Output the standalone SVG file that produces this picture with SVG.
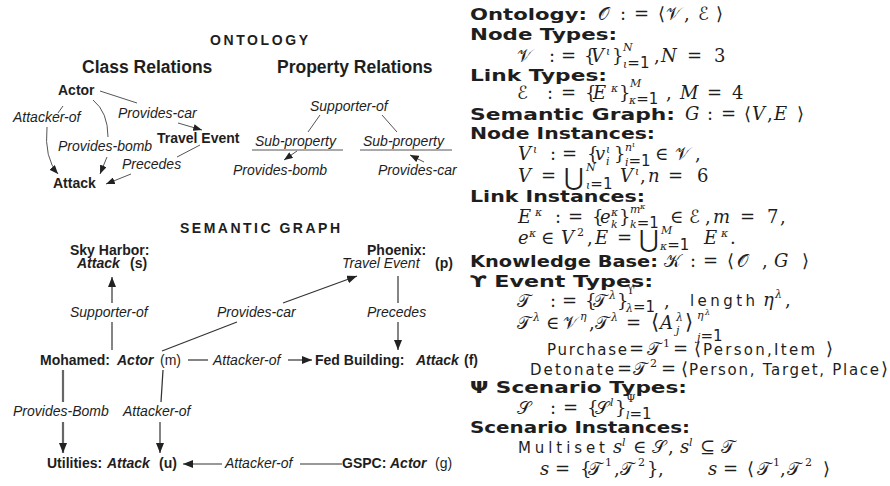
<svg xmlns="http://www.w3.org/2000/svg" width="890" height="486" viewBox="0 0 890 486">
<style>
text{fill:#1e1e1e}
.t{font-family:"Liberation Sans",Arial,sans-serif;font-size:14px}
.b{font-weight:bold}
.it{font-style:italic}
.ti{font-family:"Liberation Sans",Arial,sans-serif;font-size:17.5px;font-weight:bold}
.cap{font-family:"Liberation Sans",Arial,sans-serif;font-size:14px;font-weight:bold}
.h{font-family:"DejaVu Sans","Noto Sans",sans-serif;font-size:16.5px;font-weight:bold}
.m{font-family:"DejaVu Serif","Liberation Serif",serif;font-size:18px}
.i{font-style:italic}
.s{font-size:11px}
.xs{font-size:8px}
.u{font-family:"DejaVu Sans","Noto Sans",sans-serif;font-size:15px;font-style:normal}
.cal{font-family:"DejaVu Serif","DejaVu Sans","Noto Sans",serif;font-style:normal}
.big{font-size:24px}
.ln{fill:none;stroke:#333;stroke-width:1.2}
.lg{fill:none;stroke:#555;stroke-width:1}
</style>
<defs>
<marker id="ah" viewBox="0 0 10 8" refX="10" refY="4" markerWidth="10" markerHeight="8" markerUnits="userSpaceOnUse" orient="auto"><path d="M0,0 L10,4 L0,8 z" fill="#222"/></marker>
<marker id="as" viewBox="0 0 10 8" refX="10" refY="4" markerWidth="9" markerHeight="7" markerUnits="userSpaceOnUse" orient="auto"><path d="M0,0 L10,4 L0,8 z" fill="#222"/></marker>
</defs>

<!-- Titles -->
<text class="cap" x="210" y="45" textLength="98" lengthAdjust="spacing">ONTOLOGY</text>
<text class="ti" x="82" y="73">Class Relations</text>
<text class="ti" x="277" y="73">Property Relations</text>
<text class="cap" x="180" y="233" textLength="160" lengthAdjust="spacing">SEMANTIC GRAPH</text>

<!-- Ontology class nodes -->
<g id="o-actor"><text class="t b" x="58" y="95">Actor</text></g>
<g id="o-travel"><text class="t b" x="157" y="143">Travel Event</text></g>
<g id="o-attack"><text class="t b" x="53" y="188">Attack</text></g>

<!-- Property relation nodes -->
<g id="p-supporter"><text class="t it" x="310" y="111">Supporter-of</text></g>
<g id="p-sub1"><text class="t it" x="255" y="146">Sub-property</text><line class="lg" x1="252" y1="150" x2="343" y2="150"/></g>
<g id="p-sub2"><text class="t it" x="363" y="146">Sub-property</text><line class="lg" x1="360" y1="150" x2="452" y2="150"/></g>
<g id="p-bomb"><text class="t it" x="233" y="175">Provides-bomb</text></g>
<g id="p-car"><text class="t it" x="378" y="175">Provides-car</text></g>

<!-- Semantic graph nodes -->
<g id="s-skyharbor"><text class="t b" x="70" y="255">Sky Harbor:</text><text class="t" y="268"><tspan class="b it" x="77">Attack</tspan><tspan class="b" x="130">(s)</tspan></text></g>
<g id="s-phoenix"><text class="t b" x="367" y="255">Phoenix:</text><text class="t" y="268"><tspan class="it" x="342">Travel Event</tspan><tspan class="b" x="435">(p)</tspan></text></g>
<g id="s-mohamed"><text class="t" y="365"><tspan class="b" x="40">Mohamed:</tspan><tspan class="b it" x="117">Actor</tspan><tspan x="160">(m)</tspan></text></g>
<g id="s-fed"><text class="t" y="365"><tspan class="b" x="315">Fed Building:</tspan><tspan class="b it" x="416">Attack</tspan><tspan class="b" x="464">(f)</tspan></text></g>
<g id="s-utilities"><text class="t" y="468"><tspan class="b" x="47">Utilities:</tspan><tspan class="b it" x="107">Attack</tspan><tspan class="b" x="159">(u)</tspan></text></g>
<g id="s-gspc"><text class="t" y="468"><tspan class="b" x="342">GSPC:</tspan><tspan class="b it" x="390">Actor</tspan><tspan x="435">(g)</tspan></text></g>

<!-- Connectors -->
<g id="connectors">
  <!-- ontology class relations -->
  <line class="lg" x1="100" y1="91" x2="137" y2="103"/>
  <text class="t it" x="118" y="118">Provides-car</text>
  <line class="lg" x1="178" y1="123" x2="202" y2="130" marker-end="url(#as)"/>
  <line class="lg" x1="63" y1="106" x2="58" y2="113"/>
  <text class="t it" x="13" y="122">Attacker-of</text>
  <path class="lg" d="M47,127 Q44,158 58,174" marker-end="url(#as)"/>
  <path class="lg" d="M93,100 Q108,112 108,137"/>
  <text class="t it" x="58" y="151">Provides-bomb</text>
  <line class="lg" x1="107" y1="157" x2="100" y2="174" marker-end="url(#as)"/>
  <line class="lg" x1="200" y1="145" x2="177" y2="157"/>
  <text class="t it" x="122" y="169">Precedes</text>
  <line class="lg" x1="131" y1="174" x2="106" y2="184" marker-end="url(#as)"/>
  <!-- property relations -->
  <line class="lg" x1="320" y1="115" x2="308" y2="132"/>
  <line class="lg" x1="382" y1="115" x2="397" y2="132"/>
  <line class="lg" x1="297" y1="151" x2="284" y2="160" marker-end="url(#as)"/>
  <line class="lg" x1="424" y1="162" x2="410" y2="155" marker-end="url(#as)"/>
  <!-- semantic graph -->
  <line class="ln" x1="112" y1="303" x2="112" y2="277" marker-end="url(#ah)"/>
  <line class="ln" x1="112" y1="350" x2="112" y2="322"/>
  <text class="t it" x="70" y="317">Supporter-of</text>
  <line class="ln" x1="162" y1="351" x2="237" y2="322"/>
  <line class="ln" x1="283" y1="303" x2="357" y2="276" marker-end="url(#ah)"/>
  <text class="t it" x="217" y="317">Provides-car</text>
  <line class="ln" x1="398" y1="276" x2="398" y2="303"/>
  <line class="ln" x1="398" y1="322" x2="398" y2="350" marker-end="url(#ah)"/>
  <text class="t it" x="367" y="317">Precedes</text>
  <line class="ln" x1="188" y1="360" x2="208" y2="360"/>
  <text class="t it" x="213" y="365">Attacker-of</text>
  <line class="ln" x1="288" y1="360" x2="312" y2="360" marker-end="url(#ah)"/>
  <line x1="63" y1="370" x2="63" y2="402" stroke="#666" stroke-width="2.2"/>
  <line x1="63" y1="422" x2="63" y2="453" stroke="#666" stroke-width="2.2" marker-end="url(#ah)"/>
  <text class="t it" x="13" y="416">Provides-Bomb</text>
  <line class="ln" x1="163" y1="370" x2="161" y2="402"/>
  <line class="ln" x1="160" y1="422" x2="160" y2="453" marker-end="url(#ah)"/>
  <text class="t it" x="123" y="416">Attacker-of</text>
  <line class="ln" x1="222" y1="464" x2="183" y2="464" marker-end="url(#ah)"/>
  <text class="t it" x="225" y="468">Attacker-of</text>
  <line class="ln" x1="300" y1="464" x2="342" y2="464"/>
</g>

<!-- Right panel: definitions -->
<g id="definitions">
<text class="h" x="470" y="20" textLength="117" lengthAdjust="spacingAndGlyphs">Ontology:</text>
<text class="m" y="20"><tspan class="cal" x="598">𝒪</tspan><tspan x="620">:</tspan><tspan x="634">=</tspan><tspan x="658">⟨</tspan><tspan class="cal" x="666">𝒱</tspan><tspan x="684">,</tspan><tspan class="cal" x="698">ℰ</tspan><tspan x="716">⟩</tspan></text>

<text class="h" x="470" y="40" textLength="147" lengthAdjust="spacingAndGlyphs">Node Types:</text>
<text class="m" y="62"><tspan class="cal" x="517">𝒱</tspan><tspan x="549">:</tspan><tspan x="561">=</tspan><tspan x="584">{</tspan><tspan class="i" x="591">V</tspan><tspan class="i s" x="606" y="55">ι</tspan><tspan x="612" y="62">}</tspan><tspan class="i s" x="623" y="51">N</tspan><tspan class="i s" x="623" y="68">ι<tspan class="u s">=1</tspan></tspan><tspan x="654" y="62">,</tspan><tspan class="i" x="661">N</tspan><tspan x="687">=</tspan><tspan x="714">3</tspan></text>

<text class="h" x="470" y="81" textLength="137" lengthAdjust="spacingAndGlyphs">Link Types:</text>
<text class="m" y="99"><tspan class="cal" x="517">ℰ</tspan><tspan x="547">:</tspan><tspan x="561">=</tspan><tspan x="585">{</tspan><tspan class="i" x="593">E</tspan><tspan class="i s" x="611" y="92">κ</tspan><tspan x="619" y="99">}</tspan><tspan class="i s" x="630" y="87">M</tspan><tspan class="i s" x="629" y="104">κ<tspan class="u s">=1</tspan></tspan><tspan x="666" y="99">,</tspan><tspan class="i" x="680">M</tspan><tspan x="707">=</tspan><tspan x="732">4</tspan></text>

<text class="h" x="470" y="120" textLength="205" lengthAdjust="spacingAndGlyphs">Semantic Graph:</text>
<text class="m" y="120"><tspan class="i" x="685">G</tspan><tspan x="707">:</tspan><tspan x="721">=</tspan><tspan x="744">⟨</tspan><tspan class="i" x="752">V</tspan><tspan x="767">,</tspan><tspan class="i" x="774">E</tspan><tspan x="797">⟩</tspan></text>

<text class="h" x="470" y="139" textLength="185" lengthAdjust="spacingAndGlyphs">Node Instances:</text>
<text class="m" y="160"><tspan class="i" x="518">V</tspan><tspan class="i s" x="533" y="153">ι</tspan><tspan x="550" y="160">:</tspan><tspan x="562">=</tspan><tspan x="587">{</tspan><tspan class="i" x="595">v</tspan><tspan class="i s" x="606" y="153">ι</tspan><tspan class="i s" x="606" y="165">i</tspan><tspan x="614" y="160">}</tspan><tspan class="i s" x="625" y="151">n</tspan><tspan class="i xs" x="632" y="147">ι</tspan><tspan class="i s" x="625" y="166">i<tspan class="u s">=1</tspan></tspan><tspan x="655" y="160">∈</tspan><tspan class="cal" x="675">𝒱</tspan><tspan x="695">,</tspan></text>
<text class="m" y="182"><tspan class="i" x="518">V</tspan><tspan x="541">=</tspan><tspan class="big" x="564" y="185">⋃</tspan><tspan class="i s" x="586" y="171">N</tspan><tspan class="i s" x="586" y="189">ι<tspan class="u s">=1</tspan></tspan><tspan class="i" x="620" y="182">V</tspan><tspan class="i s" x="635" y="175">ι</tspan><tspan x="640" y="182">,</tspan><tspan class="i" x="648">n</tspan><tspan x="668">=</tspan><tspan x="697">6</tspan></text>

<text class="h" x="470" y="202" textLength="175" lengthAdjust="spacingAndGlyphs">Link Instances:</text>
<text class="m" y="223"><tspan class="i" x="518">E</tspan><tspan class="i s" x="535" y="216">κ</tspan><tspan x="555" y="223">:</tspan><tspan x="568">=</tspan><tspan x="592">{</tspan><tspan class="i" x="600">e</tspan><tspan class="i s" x="611" y="216">κ</tspan><tspan class="i s" x="611" y="228">k</tspan><tspan x="619" y="223">}</tspan><tspan class="i s" x="630" y="213">m</tspan><tspan class="i xs" x="640" y="209">κ</tspan><tspan class="i s" x="630" y="228">k<tspan class="u s">=1</tspan></tspan><tspan x="670" y="223">∈</tspan><tspan class="cal" x="689">ℰ</tspan><tspan x="705">,</tspan><tspan class="i" x="713">m</tspan><tspan x="740">=</tspan><tspan x="767">7</tspan><tspan x="780">,</tspan></text>
<text class="m" y="244"><tspan class="i" x="518">e</tspan><tspan class="i s" x="529" y="237">κ</tspan><tspan x="541" y="244">∈</tspan><tspan class="i" x="561">V</tspan><tspan class="s" x="577" y="236">2</tspan><tspan x="587" y="244">,</tspan><tspan class="i" x="595">E</tspan><tspan x="617">=</tspan><tspan class="big" x="639" y="247">⋃</tspan><tspan class="i s" x="661" y="234">M</tspan><tspan class="i s" x="660" y="250">κ<tspan class="u s">=1</tspan></tspan><tspan class="i" x="704" y="244">E</tspan><tspan class="i s" x="721" y="237">κ</tspan><tspan x="730" y="244">.</tspan></text>

<text class="h" x="470" y="267" textLength="188" lengthAdjust="spacingAndGlyphs">Knowledge Base:</text>
<text class="m" y="267"><tspan class="cal" x="664">𝒦</tspan><tspan x="690">:</tspan><tspan x="703">=</tspan><tspan x="727">⟨</tspan><tspan class="cal" x="737">𝒪</tspan><tspan x="762">,</tspan><tspan class="i" x="774">G</tspan><tspan x="802">⟩</tspan></text>

<text class="h" x="470" y="287" textLength="183" lengthAdjust="spacingAndGlyphs">ϒ Event Types:</text>
<text class="m" y="307"><tspan class="cal" x="517">𝒯</tspan><tspan x="550">:</tspan><tspan x="562">=</tspan><tspan x="585">{</tspan><tspan class="cal" x="593">𝒯</tspan><tspan class="i s" x="609" y="299">λ</tspan><tspan x="617" y="307">}</tspan><tspan class="s" x="627" y="294">ϒ</tspan><tspan class="i s" x="626" y="312">λ<tspan class="u s">=1</tspan></tspan><tspan x="664" y="307">,</tspan></text>
<text class="u" x="690" y="306" textLength="65" lengthAdjust="spacing">length</text>
<text class="m" y="306"><tspan class="i" x="763">η</tspan><tspan class="i s" x="775" y="298">λ</tspan><tspan x="785" y="306">,</tspan></text>
<text class="m" y="329"><tspan class="cal" x="517">𝒯</tspan><tspan class="i s" x="533" y="321">λ</tspan><tspan x="546" y="329">∈</tspan><tspan class="cal" x="563">𝒱</tspan><tspan class="i s" x="580" y="320">η</tspan><tspan x="589" y="329">,</tspan><tspan class="cal" x="595">𝒯</tspan><tspan class="i s" x="611" y="321">λ</tspan><tspan x="626" y="329">=</tspan><tspan x="651" style="font-size:21px">⟨</tspan><tspan class="i" x="660">A</tspan><tspan class="i s" x="676" y="321">λ</tspan><tspan class="i s" x="676" y="334">j</tspan><tspan x="685" y="329" style="font-size:21px">⟩</tspan><tspan class="i s" x="697" y="319">η</tspan><tspan class="i xs" x="705" y="315">λ</tspan><tspan class="i s" x="697" y="341">j<tspan class="u s">=1</tspan></tspan></text>
<text class="m" y="355"><tspan class="u" x="547" textLength="80" lengthAdjust="spacing">Purchase</tspan><tspan x="629">=</tspan><tspan class="cal" x="647">𝒯</tspan><tspan class="s" x="663" y="347">1</tspan><tspan x="673" y="355">=</tspan><tspan x="694">⟨</tspan><tspan class="u" x="703" textLength="112" lengthAdjust="spacing">Person,Item</tspan><tspan x="826">⟩</tspan></text>
<text class="m" y="375"><tspan class="u" x="530" textLength="84" lengthAdjust="spacing">Detonate</tspan><tspan x="617">=</tspan><tspan class="cal" x="633">𝒯</tspan><tspan class="s" x="650" y="367">2</tspan><tspan x="661" y="375">=</tspan><tspan x="681">⟨</tspan><tspan class="u" x="689" textLength="190" lengthAdjust="spacing">Person, Target, Place</tspan><tspan x="881">⟩</tspan></text>

<text class="h" x="470" y="393" textLength="217" lengthAdjust="spacingAndGlyphs">Ψ Scenario Types:</text>
<text class="m" y="414"><tspan class="cal" x="517">𝒮</tspan><tspan x="550">:</tspan><tspan x="563">=</tspan><tspan x="587">{</tspan><tspan class="cal" x="595">𝒮</tspan><tspan class="i s" x="610" y="406">l</tspan><tspan x="615" y="414">}</tspan><tspan class="s" x="626" y="402">Ψ</tspan><tspan class="i s" x="626" y="419">l<tspan class="u s">=1</tspan></tspan></text>

<text class="h" x="470" y="433" textLength="220" lengthAdjust="spacingAndGlyphs">Scenario Instances:</text>
<text class="m" y="453"><tspan class="u" x="518" textLength="87" lengthAdjust="spacing">Multiset</tspan><tspan class="i" x="613">s</tspan><tspan class="i s" x="622" y="446">l</tspan><tspan x="633" y="453">∈</tspan><tspan class="cal" x="652">𝒮</tspan><tspan x="668">,</tspan><tspan class="i" x="680">s</tspan><tspan class="i s" x="689" y="446">l</tspan><tspan x="700" y="453">⊆</tspan><tspan class="cal" x="721">𝒯</tspan></text>
<text class="m" y="475"><tspan class="i" x="540">s</tspan><tspan x="555">=</tspan><tspan x="580">{</tspan><tspan class="cal" x="588">𝒯</tspan><tspan class="s" x="605" y="466">1</tspan><tspan x="614" y="475">,</tspan><tspan class="cal" x="620">𝒯</tspan><tspan class="s" x="638" y="466">2</tspan><tspan x="647" y="475">}</tspan><tspan x="658">,</tspan><tspan class="i" x="708">s</tspan><tspan x="723">=</tspan><tspan x="747">⟨</tspan><tspan class="cal" x="757">𝒯</tspan><tspan class="s" x="773" y="466">1</tspan><tspan x="780" y="475">,</tspan><tspan class="cal" x="787">𝒯</tspan><tspan class="s" x="805" y="466">2</tspan><tspan x="823" y="475">⟩</tspan></text>
</g>
</svg>
